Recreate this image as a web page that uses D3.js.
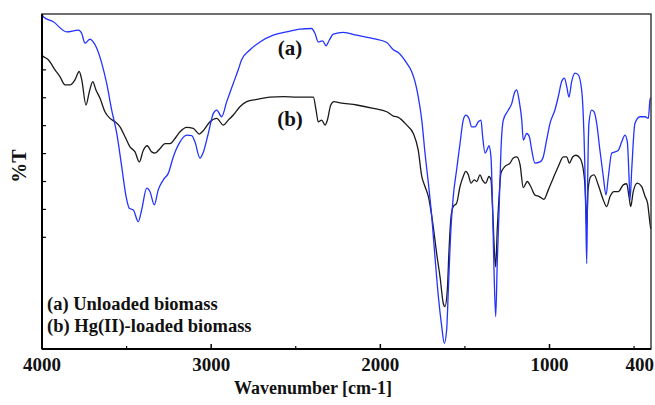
<!DOCTYPE html>
<html>
<head>
<meta charset="utf-8">
<script src="https://cdn.jsdelivr.net/npm/d3@7"></script>
<style>
  body { margin: 0; background: #fff; }
  text { font-family: "Liberation Serif", "Times New Roman", serif; font-weight: bold; fill: #111; }
</style>
</head>
<body>
<svg id="chart" width="655" height="405"></svg>
<script>
// (a) unloaded biomass, [wavenumber, %T]
const spectrumA = [
  [4000,59.9],[3992,59.5],[3933,58.6],[3854,56.8],[3785,57.1],[3765,56.5],[3746,54.8],[3716,55.5],
  [3697,55.0],[3677,53.9],[3647,51.2],[3618,47.6],[3588,42.8],[3558,38.6],[3529,32.7],[3503,27.3],
  [3484,25.2],[3460,24.9],[3431,22.8],[3411,24.9],[3381,28.8],[3362,28.2],[3336,25.8],[3313,28.5],
  [3283,30.3],[3253,31.5],[3224,34.4],[3184,37.1],[3145,38.3],[3115,38.2],[3096,37.1],[3066,34.2],
  [3047,35.2],[3017,38.6],[2987,42.2],[2967,42.8],[2938,41.6],[2908,44.3],[2869,47.6],[2840,50.0],
  [2820,51.8],[2770,53.6],[2711,55.0],[2633,56.2],[2554,56.8],[2475,57.3],[2406,57.4],[2386,56.5],
  [2367,55.0],[2341,55.2],[2321,54.3],[2302,55.3],[2278,56.4],[2219,56.7],[2140,56.2],[2042,55.6],
  [1962,54.9],[1923,53.6],[1894,53.1],[1844,51.2],[1815,49.7],[1795,47.9],[1776,45.2],[1755,41.0],
  [1736,35.1],[1716,29.7],[1696,23.7],[1677,16.5],[1657,9.4],[1637,4.0],[1622,1.0],[1608,3.4],
  [1598,10.6],[1582,21.9],[1569,27.3],[1549,32.1],[1529,36.8],[1510,41.0],[1495,41.9],[1476,41.3],
  [1460,39.8],[1440,39.8],[1421,40.7],[1405,41.0],[1395,38.0],[1381,35.1],[1370,35.6],[1358,36.4],
  [1346,34.4],[1338,27.3],[1328,14.1],[1318,5.8],[1309,15.3],[1298,24.9],[1287,35.6],[1273,41.0],
  [1243,42.8],[1223,44.0],[1208,45.8],[1194,46.4],[1180,44.6],[1164,41.0],[1155,37.4],[1135,38.6],
  [1119,38.0],[1105,35.6],[1086,33.3],[1056,33.5],[1037,34.4],[1017,37.4],[997,40.4],[968,42.8],
  [948,45.2],[928,47.9],[912,48.5],[898,47.0],[885,45.1],[869,47.9],[849,49.4],[830,49.1],
  [810,46.4],[800,41.6],[792,33.9],[786,24.9],[780,15.3],[774,30.9],[767,40.4],[751,42.8],
  [737,42.5],[721,40.4],[702,35.6],[682,30.9],[666,27.6],[652,30.9],[632,35.1],[613,35.3],
  [593,35.6],[573,37.1],[554,38.3],[540,37.1],[530,30.9],[524,26.7],[514,32.1],[495,40.4],
  [465,41.6],[435,41.6],[416,41.3],[406,44.6],[401,45.0]
];

// (b) Hg(II)-loaded biomass
const spectrumB = [
  [4000,52.6],[3992,52.4],[3963,51.8],[3923,50.0],[3894,48.8],[3864,47.3],[3834,47.3],[3805,48.2],
  [3780,49.7],[3765,48.2],[3740,43.7],[3720,46.1],[3700,47.9],[3681,46.4],[3657,44.9],[3628,42.5],
  [3598,41.3],[3568,40.7],[3539,39.8],[3509,38.0],[3480,36.2],[3450,35.3],[3425,33.5],[3401,35.6],
  [3378,36.4],[3352,35.3],[3332,35.1],[3302,35.9],[3273,36.8],[3243,36.8],[3214,37.7],[3184,38.9],
  [3145,39.7],[3106,39.5],[3070,38.5],[3047,39.1],[3007,40.7],[2967,41.3],[2928,40.1],[2899,41.0],
  [2869,41.9],[2830,43.4],[2790,44.3],[2731,44.7],[2652,45.1],[2574,45.2],[2494,45.1],[2396,45.1],
  [2380,42.8],[2367,40.7],[2347,41.0],[2327,40.1],[2313,41.0],[2293,43.7],[2274,44.3],[2238,44.1],
  [2140,43.7],[2042,43.1],[1962,42.5],[1923,41.7],[1894,41.5],[1844,40.1],[1805,38.6],[1776,35.6],
  [1755,30.9],[1736,29.1],[1716,27.3],[1687,21.9],[1667,17.1],[1647,12.9],[1628,8.2],[1618,7.6],
  [1604,10.6],[1594,17.7],[1582,23.7],[1569,25.5],[1549,26.1],[1529,29.1],[1510,30.9],[1495,31.8],
  [1480,31.2],[1464,29.7],[1445,30.3],[1430,30.0],[1411,31.2],[1397,30.3],[1377,29.7],[1358,30.9],
  [1346,30.3],[1336,24.9],[1326,17.7],[1318,14.7],[1309,21.3],[1298,27.3],[1287,31.5],[1263,32.7],
  [1233,33.3],[1214,34.2],[1194,34.4],[1174,33.0],[1155,28.9],[1131,30.0],[1111,29.1],[1086,27.6],
  [1060,27.3],[1033,26.8],[1007,28.5],[978,30.6],[948,32.7],[918,34.4],[898,34.4],[883,33.3],
  [863,34.4],[843,34.7],[820,34.2],[800,32.1],[790,29.1],[784,24.9],[780,21.9],[772,28.5],
  [756,30.9],[737,31.2],[712,29.4],[682,26.7],[662,25.5],[642,27.3],[619,28.2],[593,28.2],
  [564,29.4],[544,29.6],[530,27.3],[520,25.5],[505,28.2],[481,29.7],[455,29.1],[435,27.3],
  [420,26.1],[406,22.5],[401,21.5]
];

const majorTicks = [4000, 3000, 2000, 1000];
const minorTicks = [3500, 2500, 1500, 500];
const yTicks = [20, 25, 30, 35, 40, 45, 50];
const legendLines = ["(a) Unloaded biomass", "(b) Hg(II)-loaded biomass"];

const svg = d3.select("#chart");
const plot = { left: 42, right: 651, top: 14, bottom: 349 };

const x = d3.scaleLinear().domain([4000, 400]).range([plot.left, plot.right]);
const y = d3.scaleLinear().domain([0, 60]).range([plot.bottom, plot.top]);

const line = d3.line()
    .x(d => x(d[0]))
    .y(d => y(d[1]))
    .curve(d3.curveMonotoneX);

svg.append("path").datum(spectrumB)
    .attr("d", line).attr("fill", "none")
    .attr("stroke", "#1a1a1a").attr("stroke-width", 1.3);

svg.append("path").datum(spectrumA)
    .attr("d", line).attr("fill", "none")
    .attr("stroke", "#2233ff").attr("stroke-width", 1.3);

// frame
svg.append("rect")
    .attr("x", plot.left).attr("y", plot.top)
    .attr("width", plot.right - plot.left).attr("height", plot.bottom - plot.top)
    .attr("fill", "none").attr("stroke", "#333").attr("stroke-width", 1.4);

// bottom axis, ticks pointing inside
const xAxis = svg.append("g").attr("transform", `translate(0,${plot.bottom})`);
xAxis.append("path").attr("d", `M${plot.left},0H${plot.right}`).attr("stroke", "#000").attr("stroke-width", 2);
xAxis.selectAll(".major").data(majorTicks).enter().append("line")
    .attr("x1", d => x(d)).attr("x2", d => x(d))
    .attr("y1", 0).attr("y2", -5)
    .attr("stroke", "#000").attr("stroke-width", 1.5);
xAxis.selectAll(".minor").data(minorTicks).enter().append("line")
    .attr("x1", d => x(d)).attr("x2", d => x(d))
    .attr("y1", 0).attr("y2", -3)
    .attr("stroke", "#000").attr("stroke-width", 1.2);
xAxis.selectAll(".lbl").data(majorTicks).enter().append("text")
    .attr("x", d => x(d)).attr("y", 22)
    .attr("text-anchor", "middle")
    .style("font-size", "19px")
    .text(d => d);
xAxis.append("text")
    .attr("x", plot.right + 3).attr("y", 22)
    .attr("text-anchor", "end")
    .style("font-size", "19px")
    .text("400");

// left axis
const yAxis = svg.append("g").attr("transform", `translate(${plot.left},0)`);
yAxis.append("path").attr("d", `M0,${plot.top}V${plot.bottom}`).attr("stroke", "#000").attr("stroke-width", 2);
yAxis.selectAll("line").data(yTicks).enter().append("line")
    .attr("x1", 0).attr("x2", 4)
    .attr("y1", d => y(d)).attr("y2", d => y(d))
    .attr("stroke", "#000").attr("stroke-width", 1.2);

svg.append("text")
    .attr("x", 313).attr("y", 394)
    .attr("text-anchor", "middle")
    .style("font-size", "18px")
    .text("Wavenumber [cm-1]");

svg.append("text")
    .attr("transform", "translate(26,166) rotate(-90)")
    .attr("text-anchor", "middle")
    .style("font-size", "20px")
    .text("%T");

// curve labels
svg.append("text").attr("x", 290).attr("y", 55)
    .attr("text-anchor", "middle").style("font-size", "21px").text("(a)");
svg.append("text").attr("x", 290).attr("y", 126)
    .attr("text-anchor", "middle").style("font-size", "21px").text("(b)");

svg.selectAll(".legend").data(legendLines).enter().append("text")
    .attr("x", 47).attr("y", (d, i) => 310 + i * 22)
    .style("font-size", "18.5px")
    .text(d => d);
</script>
</body>
</html>
